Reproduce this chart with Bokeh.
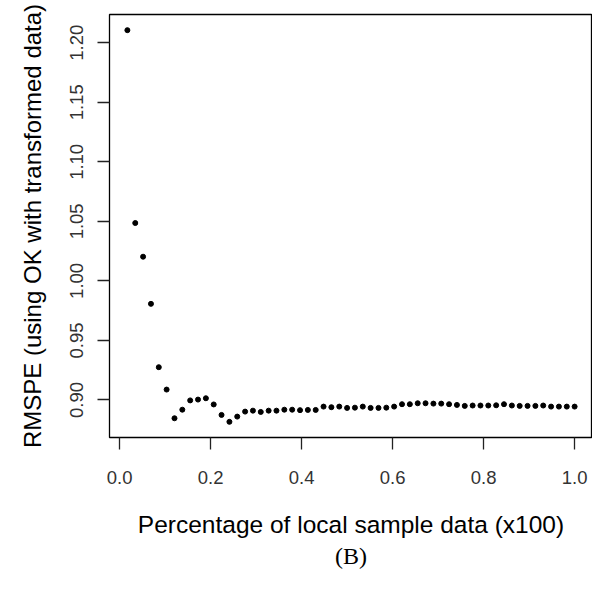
from bokeh.plotting import figure
from bokeh.models import Range1d, FixedTicker, Title
from bokeh.embed import file_html
from bokeh.resources import INLINE

# Data
frac_local = [0.0172, 0.0345, 0.0517, 0.0690, 0.0862, 0.1034, 0.1207, 0.1379,
              0.1552, 0.1724, 0.1897, 0.2069, 0.2241, 0.2414, 0.2586, 0.2759,
              0.2931, 0.3103, 0.3276, 0.3448, 0.3621, 0.3793, 0.3966, 0.4138,
              0.4310, 0.4483, 0.4655, 0.4828, 0.5000, 0.5172, 0.5345, 0.5517,
              0.5690, 0.5862, 0.6034, 0.6207, 0.6379, 0.6552, 0.6724, 0.6897,
              0.7069, 0.7241, 0.7414, 0.7586, 0.7759, 0.7931, 0.8103, 0.8276,
              0.8448, 0.8621, 0.8793, 0.8966, 0.9138, 0.9310, 0.9483, 0.9655,
              0.9828, 1.0000]
rmspe = [1.2106, 1.0486, 1.0203, 0.9807, 0.9275, 0.9087, 0.8846, 0.8918,
         0.8996, 0.9003, 0.9014, 0.8962, 0.8874, 0.8816, 0.8860, 0.8902,
         0.8910, 0.8899, 0.8910, 0.8910, 0.8918, 0.8918, 0.8914, 0.8916,
         0.8916, 0.8944, 0.8939, 0.8944, 0.8933, 0.8935, 0.8944, 0.8933,
         0.8933, 0.8935, 0.8944, 0.8964, 0.8964, 0.8972, 0.8972, 0.8969,
         0.8969, 0.8964, 0.8958, 0.8950, 0.8953, 0.8953, 0.8953, 0.8955,
         0.8964, 0.8953, 0.8950, 0.8950, 0.8950, 0.8953, 0.8944, 0.8944,
         0.8944, 0.8944]
x_ticks = [0.0, 0.2, 0.4, 0.6, 0.8, 1.0]
y_ticks = [0.90, 0.95, 1.00, 1.05, 1.10, 1.15, 1.20]
x_tick_labels = {0.0: "0.0", 0.2: "0.2", 0.4: "0.4", 0.6: "0.6", 0.8: "0.8", 1.0: "1.0"}
y_tick_labels = {0.9: "0.90", 0.95: "0.95", 1.0: "1.00", 1.05: "1.05",
                 1.1: "1.10", 1.15: "1.15", 1.2: "1.20"}
x_label = "Percentage of local sample data (x100)"
y_label = "RMSPE (using OK with transformed data)"
panel_label = "(B)"

# R-style 4% padding on the data range
xpad = (max(frac_local) - min(frac_local)) * 0.04
ypad = (max(rmspe) - min(rmspe)) * 0.04

p = figure(output_backend="svg", toolbar_location=None,
           frame_width=483, frame_height=423,
           min_border_left=109, min_border_top=14, min_border_right=0,
           min_border_bottom=156,
           x_range=Range1d(min(frac_local) - xpad, max(frac_local) + xpad),
           y_range=Range1d(min(rmspe) - ypad, max(rmspe) + ypad))

p.scatter(frac_local, rmspe, size=5, color="black", line_color="black")

p.grid.visible = False
p.outline_line_color = "black"
p.outline_line_width = 1.3
p.background_fill_color = "white"
p.border_fill_color = "white"

for ax, ticks, labels in ((p.xaxis[0], x_ticks, x_tick_labels),
                          (p.yaxis[0], y_ticks, y_tick_labels)):
    ax.ticker = FixedTicker(ticks=ticks)
    ax.major_label_overrides = labels
    ax.minor_tick_line_color = None
    ax.major_tick_out = 12
    ax.major_tick_in = 0
    ax.major_tick_line_color = "#222222"
    ax.major_tick_line_width = 1.3
    ax.axis_line_color = None
    ax.major_label_text_font = "Liberation Sans"
    ax.major_label_text_font_size = "18.5px"
    ax.major_label_text_color = "#333333"
    ax.axis_label_text_font = "Liberation Sans"
    ax.axis_label_text_font_style = "normal"
    ax.axis_label_text_color = "black"

p.xaxis.axis_label = x_label
p.yaxis.axis_label = y_label
p.xaxis.axis_label_text_font_size = "24.5px"
p.yaxis.axis_label_text_font_size = "24px"
p.yaxis.major_label_orientation = "vertical"
p.xaxis.major_label_standoff = 21
p.yaxis.major_label_standoff = 14
p.xaxis.axis_label_standoff = 24
p.yaxis.axis_label_standoff = 22

t = Title(text=panel_label, align="center", text_font="Liberation Serif",
          text_font_size="24px", text_font_style="normal", text_color="black",
          standoff=0)
p.add_layout(t, "below")

open("out.html", "w").write(file_html(p, INLINE))
